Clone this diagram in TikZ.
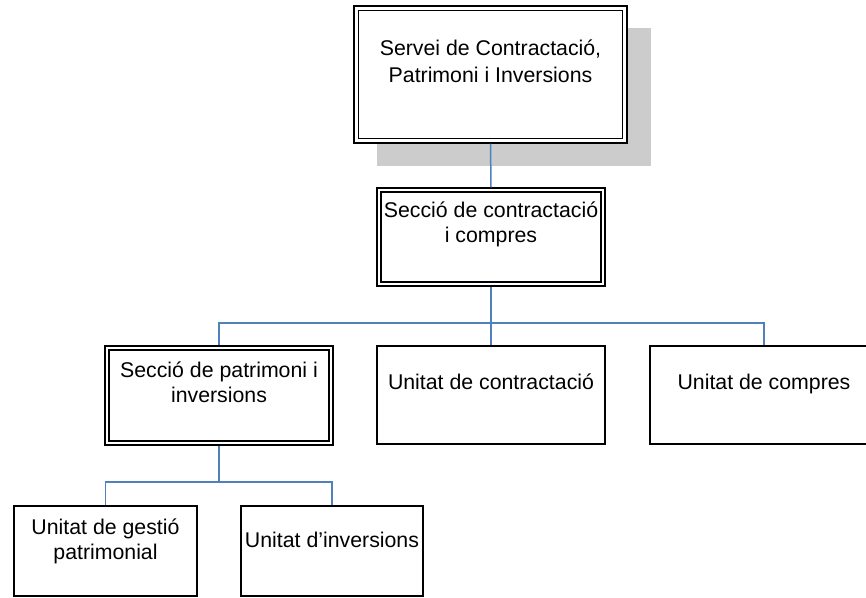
\documentclass[tikz,border=0pt]{standalone}
\usepackage{fontspec}
\setmainfont{Liberation Sans}
\tikzset{
  box/.style={draw=black, line width=1.3pt, fill=white, inner sep=0pt, rectangle},
  inner/.style={draw=black, line width=1.8pt},
  outerthin/.style={draw=black, line width=1.1pt},
  conn/.style={draw={rgb,255:red,79;green,129;blue,189}, line width=1.5pt},
  lbl/.style={inner sep=0pt, align=center, anchor=base, font=\fontsize{21.3}{25}\selectfont},
  shadowbox/.style={fill=black!20, draw=none}
}
\begin{document}
\begin{tikzpicture}[x=1pt,y=-1pt]
\useasboundingbox (0,0) rectangle (866,597);
\clip (0,0) rectangle (866,597);
% shadow
\fill[shadowbox] (377,28) rectangle (651,166);
% top box
\node[box, outerthin, minimum width=273pt, minimum height=137pt] (top) at (490.5,74.5) {};
\draw[inner] ([shift={(5pt,-5pt)}]top.north west) rectangle ([shift={(-5pt,5pt)}]top.south east);
\node[lbl, font=\fontsize{21.3}{26.5}\selectfont] (toptxt) at (490.5,82) {Servei de Contractació,\\Patrimoni i Inversions};
% seccio de contractacio
\node[box, minimum width=228pt, minimum height=98pt] (sec1) at (491,237) {};
\draw[inner] ([shift={(5pt,-5pt)}]sec1.north west) rectangle ([shift={(-5pt,5pt)}]sec1.south east);
\node[lbl] (sec1txt) at (491,242) {Secció de contractació\\i compres};
% level 2
\node[box, minimum width=228pt, minimum height=99pt] (sec2) at (219,395.5) {};
\draw[inner] ([shift={(5pt,-5pt)}]sec2.north west) rectangle ([shift={(-5pt,5pt)}]sec2.south east);
\node[lbl] (sec2txt) at (219,402) {Secció de patrimoni i\\inversions};
\node[box, minimum width=228pt, minimum height=98pt] (uc) at (491,395) {};
\node[lbl] (uctxt) at (491,389) {Unitat de contractació};
\node[box, minimum width=228pt, minimum height=98pt] (ucomp) at (764,395) {};
\node[lbl] (ucomptxt) at (764,389) {Unitat de compres};
% level 3
\node[box, minimum width=183pt, minimum height=90pt] (ug) at (105.5,551) {};
\node[lbl] (ugtxt) at (105.5,559) {Unitat de gestió\\patrimonial};
\node[box, minimum width=182pt, minimum height=90pt] (ui) at (332,551) {};
\node[lbl] (uitxt) at (332,547) {Unitat d’inversions};
% connectors
\coordinate (bar1) at (0,323);
\coordinate (bar2) at (0,482);
\draw[conn] (top.south) -- (sec1.north);
\draw[conn] (sec1.south) -- (sec1.south |- bar1) -| (sec2.north);
\draw[conn] (sec1.south |- bar1) -- (uc.north);
\draw[conn] (sec1.south |- bar1) -| (ucomp.north);
\draw[conn] (sec2.south) -- (sec2.south |- bar2) -| (ug.north);
\draw[conn] (sec2.south |- bar2) -| (ui.north);
\end{tikzpicture}
\end{document}
